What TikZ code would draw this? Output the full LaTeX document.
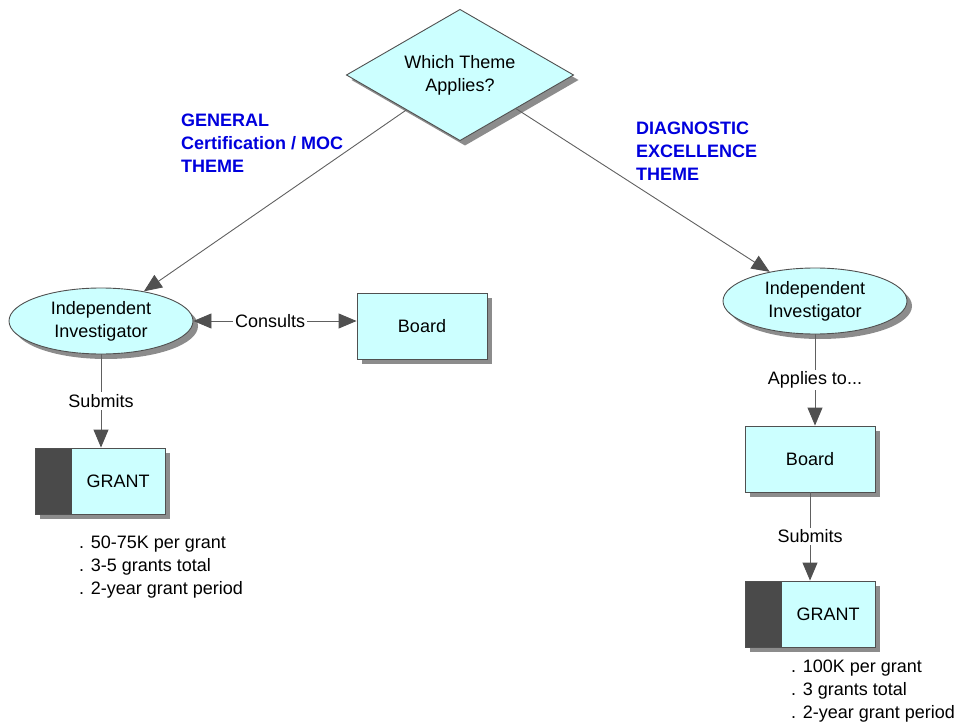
\documentclass[tikz,border=0pt]{standalone}
\usepackage{fontspec}
\setmainfont{Liberation Sans}
\usetikzlibrary{shapes.geometric,shadows,arrows.meta,calc}
\definecolor{boxfill}{HTML}{CCFFFF}
\definecolor{bordergray}{HTML}{505050}
\definecolor{shadowgray}{HTML}{8C8C8C}
\definecolor{linegray}{HTML}{606060}
\definecolor{tipgray}{HTML}{505050}
\definecolor{darkpart}{HTML}{4A4A4A}
\definecolor{themeblue}{HTML}{0000DD}
\tikzset{
  shapebox/.style={draw=bordergray, line width=0.9pt, fill=boxfill,
    drop shadow={shadow xshift=5pt, shadow yshift=-5pt, fill=shadowgray, opacity=1}},
  ellbox/.style={shapebox, ellipse, minimum width=184pt, minimum height=66pt, inner sep=0pt, align=center},
  rectbox/.style={shapebox, rectangle, minimum width=130pt, minimum height=66pt, inner sep=0pt},
  grantbox/.style={rectbox, path picture={\fill[darkpart] (path picture bounding box.north west) rectangle ([xshift=37pt]path picture bounding box.south west);}},
  conn/.style={draw=linegray, line width=0.9pt},
  arr/.style={conn, -{Triangle[length=18pt,width=15pt,color=tipgray]}},
  darr/.style={conn, {Triangle[length=18pt,width=15pt,color=tipgray]}-{Triangle[length=18pt,width=15pt,color=tipgray]}},
  lbl/.style={fill=white, inner sep=2pt},
  themelbl/.style={text=themeblue, font=\fontsize{18}{23}\selectfont\bfseries, align=left, anchor=west, inner sep=0pt},
  notes/.style={align=left, anchor=north west, inner sep=0pt}
}
\begin{document}
\begin{tikzpicture}[x=1pt,y=-1pt, font=\fontsize{18}{23}\selectfont]
\useasboundingbox (0,0) rectangle (966,727);
\node[shapebox, diamond, aspect=1.73, minimum width=227pt, minimum height=131pt, inner sep=0pt, outer sep=0pt, align=center] (dia) at (460,75) {Which Theme\\Applies?};
\node[ellbox] (ellL) at (101,321) {Independent\\Investigator};
\node[rectbox] (boardL) at (422,326) {Board};
\node[grantbox] (grantL) at (100,481) {};
\node (grantLt) at ([xshift=18pt]grantL.center) {GRANT};
\node[ellbox] (ellR) at (815,301) {Independent\\Investigator};
\node[rectbox] (boardR) at (810,459) {Board};
\node[grantbox] (grantR) at (810,614) {};
\node (grantRt) at ([xshift=18pt]grantR.center) {GRANT};

\node[themelbl] (themeL) at (181,143) {GENERAL\\Certification / MOC\\THEME};
\node[themelbl] (themeR) at (636,151) {DIAGNOSTIC\\EXCELLENCE\\THEME};

\node[notes] (notesL) at (79,536) {. 50-75K per grant\\. 3-5 grants total\\. 2-year grant period};
\node[notes] (notesR) at (791,660) {. 100K per grant\\. 3 grants total\\. 2-year grant period};

\coordinate (dL) at ($(dia.west)!0.53!(dia.south)$);
\coordinate (dR) at ($(dia.east)!0.51!(dia.south)$);
\draw[arr] (dL) -- (ellL);
\draw[arr] (dR) -- (ellR);
\draw[darr] (ellL.east) -- node[lbl, pos=0.47] (consults) {Consults} (ellL.east -| boardL.west);
\draw[arr] (ellL.south) -- node[lbl] (submitsL) {Submits} (ellL.south |- grantL.north);
\draw[arr] (ellR.south) -- node[lbl] (applies) {Applies to...} (ellR.south |- boardR.north);
\draw[arr] (boardR.south) -- node[lbl] (submitsR) {Submits} (grantR.north);
\end{tikzpicture}
\end{document}
